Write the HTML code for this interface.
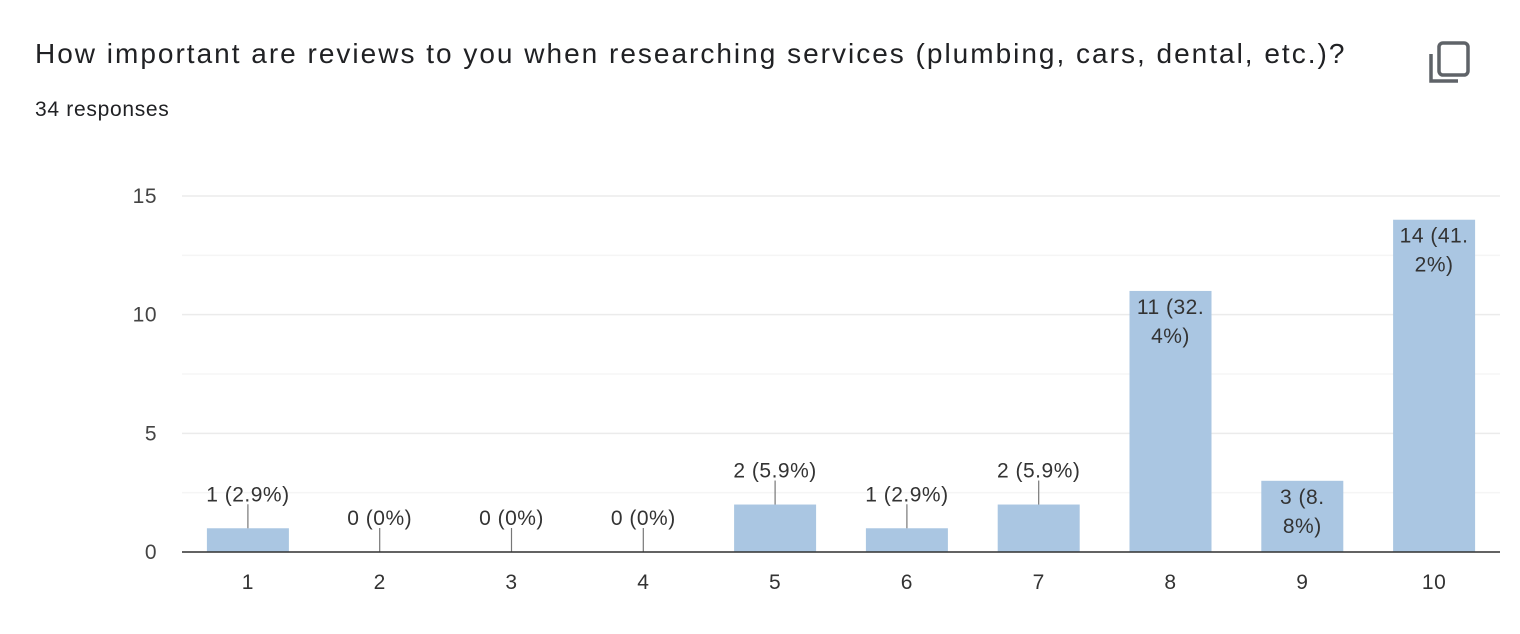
<!DOCTYPE html>
<html><head><meta charset="utf-8"><style>
body{margin:0;width:1520px;height:634px;background:#fff;font-family:"Liberation Sans",Arial,sans-serif;overflow:hidden;position:relative}
.title{position:absolute;left:35px;top:38px;font-size:28px;letter-spacing:2px;color:#202124;white-space:nowrap}
.resp{position:absolute;left:35px;top:98px;font-size:21px;letter-spacing:0.7px;color:#202124}
.copy{position:absolute;left:1428px;top:40px}
svg{position:absolute;left:0;top:0}
text{letter-spacing:0.5px}
</style></head><body>
<div class="title">How important are reviews to you when researching services (plumbing, cars, dental, etc.)?</div>
<div class="resp">34 responses</div>
<svg class="copy" width="44" height="46" viewBox="0 0 44 46"><path d="M3 14 V41 H30" fill="none" stroke="#5f6368" stroke-width="3.5"/><rect x="11" y="3" width="29" height="32" rx="4" fill="none" stroke="#5f6368" stroke-width="3.5"/></svg>
<svg id="chart" width="1520" height="634"></svg>
<script>
const categories=["1","2","3","4","5","6","7","8","9","10"];
const counts=[1,0,0,0,2,1,2,11,3,14];
const pctLabels=["2.9%","0%","0%","0%","5.9%","2.9%","5.9%","32.4%","8.8%","41.2%"];
const yTicks=[0,5,10,15];
const NS="http://www.w3.org/2000/svg";
const svg=document.getElementById('chart');
const L=182,R=1500,B=552,T=196,YMAX=15;
const y=v=>B-(B-T)*v/YMAX;
const step=(R-L)/categories.length;
const xc=i=>L+step*(i+0.5);
const BW=82;
function mk(tag,attrs,parent){const e=document.createElementNS(NS,tag);for(const k in attrs)e.setAttribute(k,attrs[k]);(parent||svg).appendChild(e);return e;}
for(let v=0;v<=YMAX;v+=2.5){
  const g=mk('line',{x1:L,x2:R,y1:y(v),y2:y(v),stroke:v%5===0?'#ebebeb':'#f5f5f5','stroke-width':1.5});
  
  
}
yTicks.forEach(v=>{
  const t=mk('text',{x:157,y:y(v)+7,'text-anchor':'end','font-size':21,fill:'#444'});
  t.textContent=v;
  
  
});
categories.forEach((c,i)=>{
  const v=counts[i],top=y(v),cx=xc(i);
  if(v>0){
    const r=mk('rect',{x:cx-BW/2,y:top,width:BW,height:B-top,fill:'#aac6e2'});
    
    
  }
  const label=v+' ('+pctLabels[i]+')';
  if(v>=3){
    const dot=label.indexOf('.');
    const lines=dot>=0?[label.slice(0,dot+1),label.slice(dot+1)]:[label];
    lines.forEach((ln,k)=>{
      const t=mk('text',{x:cx,y:top+23+k*29,'text-anchor':'middle','font-size':21,fill:'#333'});
      t.textContent=ln;
      
      
    });
  }else{
    const l=mk('line',{x1:cx,x2:cx,y1:top-24,y2:top,stroke:'#777','stroke-width':1.2});
    
    
    const t=mk('text',{x:cx,y:top-27,'text-anchor':'middle','font-size':21,fill:'#333'});
    t.textContent=label;
    
    
  }
  const xt=mk('text',{x:cx,y:589,'text-anchor':'middle','font-size':21,fill:'#333'});
  xt.textContent=c;
  
  
});
const ax=mk('line',{x1:L,x2:R,y1:B,y2:B,stroke:'#333','stroke-width':1.5});


</script>
</body></html>
